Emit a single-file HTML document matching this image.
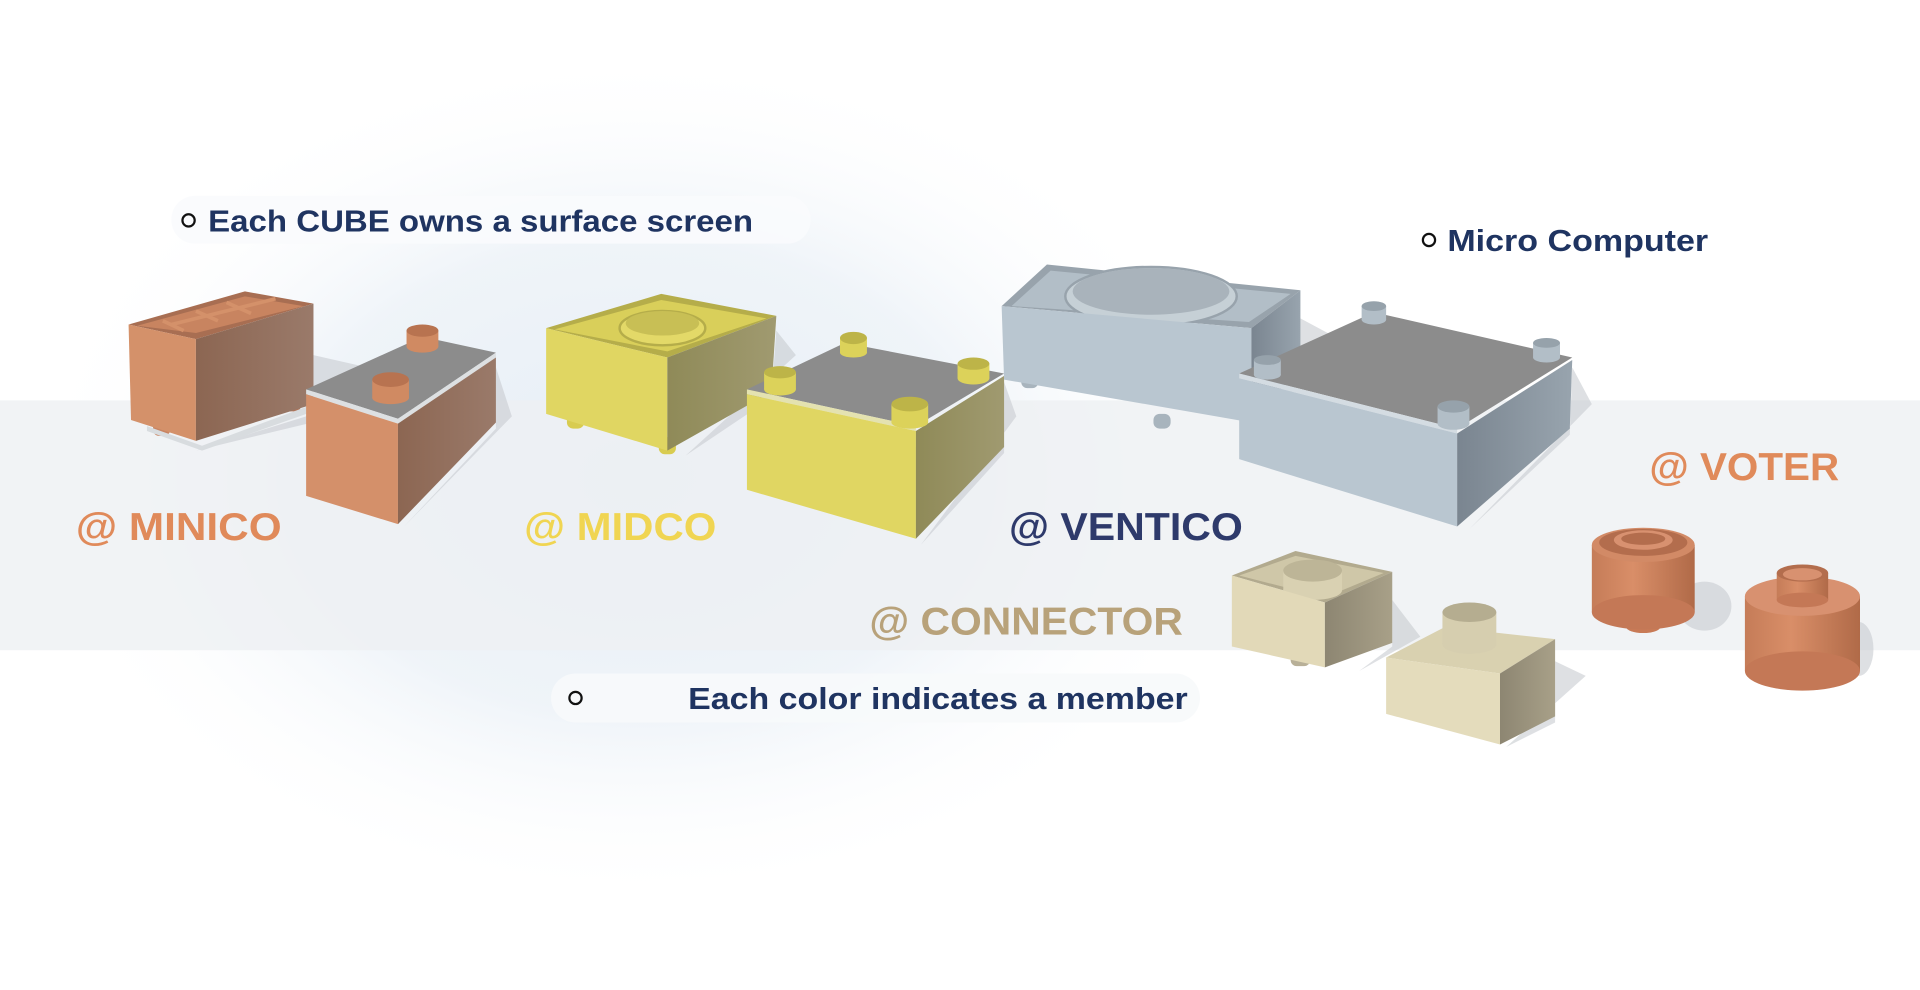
<!DOCTYPE html>
<html><head><meta charset="utf-8"><style>
html,body{margin:0;padding:0;width:1920px;height:990px;overflow:hidden;background:#fff}
svg{display:block}
text{font-family:"Liberation Sans",sans-serif;font-weight:bold}
</style></head><body>
<svg width="1920" height="990" viewBox="0 0 1568 808.5" xmlns="http://www.w3.org/2000/svg">
<defs>
<radialGradient id="glow" cx="520" cy="390" r="500" gradientUnits="userSpaceOnUse" gradientTransform="translate(520 390) scale(1 0.7) translate(-520 -390)">
<stop offset="0" stop-color="#e6eef6" stop-opacity="1"/><stop offset="0.55" stop-color="#ebf1f7" stop-opacity="0.8"/><stop offset="1" stop-color="#ffffff" stop-opacity="0"/></radialGradient>
<linearGradient id="oR" x1="0" x2="1"><stop offset="0" stop-color="#8c6652"/><stop offset="1" stop-color="#9a7a6a"/></linearGradient>
<linearGradient id="yR" x1="0" x2="1"><stop offset="0" stop-color="#8f8a58"/><stop offset="1" stop-color="#a09a70"/></linearGradient>
<linearGradient id="bR" x1="0" x2="1"><stop offset="0" stop-color="#7a8590"/><stop offset="1" stop-color="#98a4ae"/></linearGradient>
<linearGradient id="cR" x1="0" x2="1"><stop offset="0" stop-color="#8d8672"/><stop offset="1" stop-color="#a8a088"/></linearGradient>
<linearGradient id="vc" x1="0" x2="1"><stop offset="0" stop-color="#c57c58"/><stop offset="0.4" stop-color="#d98e68"/><stop offset="1" stop-color="#b06a48"/></linearGradient>
</defs>
<rect width="1568" height="808.5" fill="#fff"/>
<rect x="0" y="0" width="1568" height="808.5" fill="url(#glow)"/>
<rect x="0" y="327" width="1568" height="204" fill="#eef0f3" opacity="0.8"/>

<!-- pills -->
<rect x="140" y="160" width="522" height="39" rx="19" fill="#fafbfd" opacity="0.9"/>
<rect x="450" y="550" width="530" height="40" rx="20" fill="#f7f9fb" opacity="0.9"/>
<rect x="1150" y="178" width="260" height="36" rx="18" fill="#fff" opacity="0.8"/>

<!-- shadows -->
<g fill="#c8ccd0" opacity="0.6">
<polygon points="256,290 300,300 255,345 160,368 250,340"/>
<polygon points="405,300 418,340 330,430 405,350"/>
<polygon points="634,270 650,290 560,372 630,325"/>
<polygon points="820,312 830,340 752,445 820,370"/>
<polygon points="1062,260 1090,275 1040,340"/>
<polygon points="1284,300 1300,330 1200,432 1282,355"/>
<polygon points="1137,490 1160,520 1110,548 1137,528"/>
<polygon points="1270,540 1295,552 1230,610 1270,590"/>
<ellipse cx="1392" cy="495" rx="22" ry="20"/>
<ellipse cx="1518" cy="530" rx="12" ry="22"/>
</g>

<!-- MINICO open -->
<rect x="125" y="340" width="14" height="16" rx="5" fill="#c88462"/>
<rect x="232" y="322" width="14" height="14" rx="5" fill="#b07458"/>
<polygon points="120,348 165,364 256,330 256,336 165,368 120,352" fill="#d8dcdf"/>
<polygon points="105,265 200,238 256,248 160,277" fill="#a86e52"/>
<polygon points="112,266 200,242 248,250 160,272" fill="#c88460"/>
<polygon points="105,265 160,277 160,360 107,343" fill="#d4916a"/>
<polygon points="160,277 256,248 256,330 160,360" fill="url(#oR)"/>
<g stroke="#d4916a" stroke-width="3"><line x1="133" y1="262" x2="150" y2="270"/><line x1="160" y1="254" x2="178" y2="262"/><line x1="185" y1="247" x2="205" y2="256"/><line x1="140" y1="265" x2="225" y2="244"/></g>
<!-- MINICO closed -->
<polygon points="250,318 345,275 405,288 325,342" fill="#8c8c8c"/>
<polygon points="250,318 325,342 325,346 250,322" fill="#dde0e2"/>
<polygon points="325,342 405,288 405,292 325,346" fill="#dde0e2"/>
<polygon points="250,322 325,346 325,428 250,405" fill="#d4906a"/>
<polygon points="325,346 405,292 405,345 325,428" fill="url(#oR)"/>
<g fill="#d08a62"><rect x="332" y="270" width="26" height="13"/><ellipse cx="345" cy="283" rx="13" ry="5"/><ellipse cx="345" cy="270" rx="13" ry="5" fill="#b87350"/>
<rect x="304" y="310" width="30" height="15"/><ellipse cx="319" cy="325" rx="15" ry="5"/><ellipse cx="319" cy="310" rx="15" ry="6" fill="#b87350"/></g>

<!-- MIDCO open -->
<rect x="463" y="336" width="14" height="14" rx="5" fill="#d8cc50"/>
<rect x="538" y="357" width="14" height="14" rx="5" fill="#d8cc50"/>
<polygon points="446,268 540,240 634,258 545,292" fill="#b5ad4a"/>
<polygon points="453,269 540,245 626,260 545,287" fill="#d9cf5a"/>
<ellipse cx="541" cy="268" rx="35" ry="14" fill="#e3d968" stroke="#b5ad4a" stroke-width="2"/>
<ellipse cx="541" cy="264" rx="30" ry="10" fill="#c8bf55"/>
<polygon points="446,268 545,292 545,368 446,338" fill="#e0d662"/>
<polygon points="545,292 634,258 630,320 545,368" fill="url(#yR)"/>
<!-- MIDCO closed -->
<polygon points="610,318 690,280 820,305 748,348" fill="#8c8c8c"/>
<polygon points="610,318 748,348 748,352 610,322" fill="#e4e2b0"/>
<polygon points="610,322 748,352 748,440 610,400" fill="#e0d662"/>
<polygon points="748,352 820,307 820,365 748,440" fill="url(#yR)"/>
<g fill="#dcd25a"><rect x="686" y="276" width="22" height="12"/><ellipse cx="697" cy="288" rx="11" ry="4"/><ellipse cx="697" cy="276" rx="11" ry="5" fill="#bdb448"/>
<rect x="782" y="297" width="26" height="12"/><ellipse cx="795" cy="309" rx="13" ry="5"/><ellipse cx="795" cy="297" rx="13" ry="5" fill="#bdb448"/>
<rect x="624" y="304" width="26" height="14"/><ellipse cx="637" cy="318" rx="13" ry="5"/><ellipse cx="637" cy="304" rx="13" ry="5" fill="#bdb448"/>
<rect x="728" y="330" width="30" height="15"/><ellipse cx="743" cy="345" rx="15" ry="5"/><ellipse cx="743" cy="330" rx="15" ry="6" fill="#bdb448"/></g>

<!-- VENTICO open -->
<rect x="834" y="305" width="14" height="12" rx="5" fill="#a8b4bd"/>
<rect x="942" y="338" width="14" height="12" rx="5" fill="#a8b4bd"/>
<polygon points="818,250 855,216 1062,237 1022,268" fill="#98a3ac"/>
<polygon points="826,250 858,221 1054,240 1020,263" fill="#b2bec7"/>
<ellipse cx="940" cy="242" rx="70" ry="24" fill="#c6d0d6" stroke="#98a3ac" stroke-width="2"/>
<ellipse cx="940" cy="238" rx="64" ry="19" fill="#a9b3bb"/>
<polygon points="818,250 1022,268 1022,345 820,310" fill="#b9c6d0"/>
<polygon points="1022,268 1062,237 1062,300 1022,345" fill="url(#bR)"/>
<!-- VENTICO closed -->
<polygon points="1012,305 1122,255 1284,292 1190,350" fill="#8c8c8c"/>
<polygon points="1012,305 1190,350 1190,354 1012,309" fill="#d4dce2"/>
<polygon points="1012,309 1190,354 1190,430 1012,375" fill="#b9c6d0"/>
<polygon points="1190,354 1284,294 1282,350 1190,430" fill="url(#bR)"/>
<g fill="#b2bec7"><rect x="1112" y="250" width="20" height="11"/><ellipse cx="1122" cy="261" rx="10" ry="4"/><ellipse cx="1122" cy="250" rx="10" ry="4" fill="#96a2ab"/>
<rect x="1252" y="280" width="22" height="12"/><ellipse cx="1263" cy="292" rx="11" ry="4"/><ellipse cx="1263" cy="280" rx="11" ry="4" fill="#96a2ab"/>
<rect x="1024" y="294" width="22" height="12"/><ellipse cx="1035" cy="306" rx="11" ry="4"/><ellipse cx="1035" cy="294" rx="11" ry="4" fill="#96a2ab"/>
<rect x="1174" y="332" width="26" height="14"/><ellipse cx="1187" cy="346" rx="13" ry="5"/><ellipse cx="1187" cy="332" rx="13" ry="5" fill="#96a2ab"/></g>

<!-- CONNECTOR open -->
<rect x="1054" y="530" width="16" height="14" rx="5" fill="#b8b098"/>
<polygon points="1006,470 1058,450 1137,467 1082,492" fill="#b2aa8e"/>
<polygon points="1012,470 1058,454 1130,468 1082,488" fill="#cfc7a8"/>
<rect x="1048" y="466" width="48" height="16" fill="#d9d1b2"/>
<ellipse cx="1072" cy="482" rx="24" ry="8" fill="#d9d1b2"/>
<ellipse cx="1072" cy="466" rx="24" ry="9" fill="#bdb597"/>
<polygon points="1006,470 1082,492 1082,545 1006,528" fill="#e2d9b8"/>
<polygon points="1082,492 1137,467 1137,525 1082,545" fill="url(#cR)"/>
<!-- CONNECTOR closed -->
<polygon points="1132,537 1180,512 1270,522 1225,550" fill="#d9d1b0"/>
<polygon points="1132,537 1225,550 1225,608 1132,583" fill="#e4dcbc"/>
<polygon points="1225,550 1270,522 1270,585 1225,608" fill="url(#cR)"/>
<rect x="1178" y="500" width="44" height="26" fill="#d6ceaf"/>
<ellipse cx="1200" cy="526" rx="22" ry="8" fill="#d6ceaf"/>
<ellipse cx="1200" cy="500" rx="22" ry="8" fill="#b5ad90"/>

<!-- VOTER -->
<rect x="1328" y="498" width="28" height="14" fill="#c87a56"/><ellipse cx="1342" cy="512" rx="14" ry="5" fill="#c87a56"/>
<rect x="1300" y="445" width="84" height="55" fill="url(#vc)"/>
<ellipse cx="1342" cy="500" rx="42" ry="14" fill="#c47856"/>
<ellipse cx="1342" cy="445" rx="42" ry="14" fill="#d28a66"/>
<ellipse cx="1342" cy="443" rx="36" ry="11" fill="#b36d4d"/>
<ellipse cx="1342" cy="441" rx="24" ry="8" fill="#d89170"/>
<ellipse cx="1342" cy="440" rx="18" ry="5" fill="#b36d4d"/>
<rect x="1425" y="487" width="94" height="61" fill="url(#vc)"/>
<ellipse cx="1472" cy="548" rx="47" ry="16" fill="#c47856"/>
<ellipse cx="1472" cy="487" rx="47" ry="16" fill="#d89170"/>
<rect x="1451" y="468" width="42" height="22" fill="url(#vc)"/>
<ellipse cx="1472" cy="490" rx="21" ry="6" fill="#c47856"/>
<ellipse cx="1472" cy="468" rx="21" ry="7" fill="#b36d4d"/>
<ellipse cx="1472" cy="469" rx="16" ry="5" fill="#d89170"/>

<!-- bullet texts -->
<g fill="none" stroke="#111" stroke-width="1.8">
<circle cx="154" cy="180" r="5"/><circle cx="1167" cy="196" r="5"/><circle cx="470" cy="570" r="5"/></g>
<g fill="#1f3461" font-size="25">
<text x="170" y="189" textLength="445" lengthAdjust="spacingAndGlyphs">Each CUBE owns a surface screen</text>
<text x="1182" y="205" textLength="213" lengthAdjust="spacingAndGlyphs">Micro Computer</text>
<text x="562" y="579" textLength="408" lengthAdjust="spacingAndGlyphs">Each color indicates a member</text>
</g>
<g font-size="32">
<text x="62" y="441" fill="#e08a5a" textLength="168" lengthAdjust="spacingAndGlyphs">@ MINICO</text>
<text x="428" y="441" fill="#f0d552" textLength="157" lengthAdjust="spacingAndGlyphs">@ MIDCO</text>
<text x="824" y="441" fill="#2e3a6b" textLength="191" lengthAdjust="spacingAndGlyphs">@ VENTICO</text>
<text x="710" y="518" fill="#b8a27a" textLength="256" lengthAdjust="spacingAndGlyphs">@ CONNECTOR</text>
<text x="1347" y="392" fill="#e08a5a" textLength="155" lengthAdjust="spacingAndGlyphs">@ VOTER</text>
</g>
</svg>
</body></html>
